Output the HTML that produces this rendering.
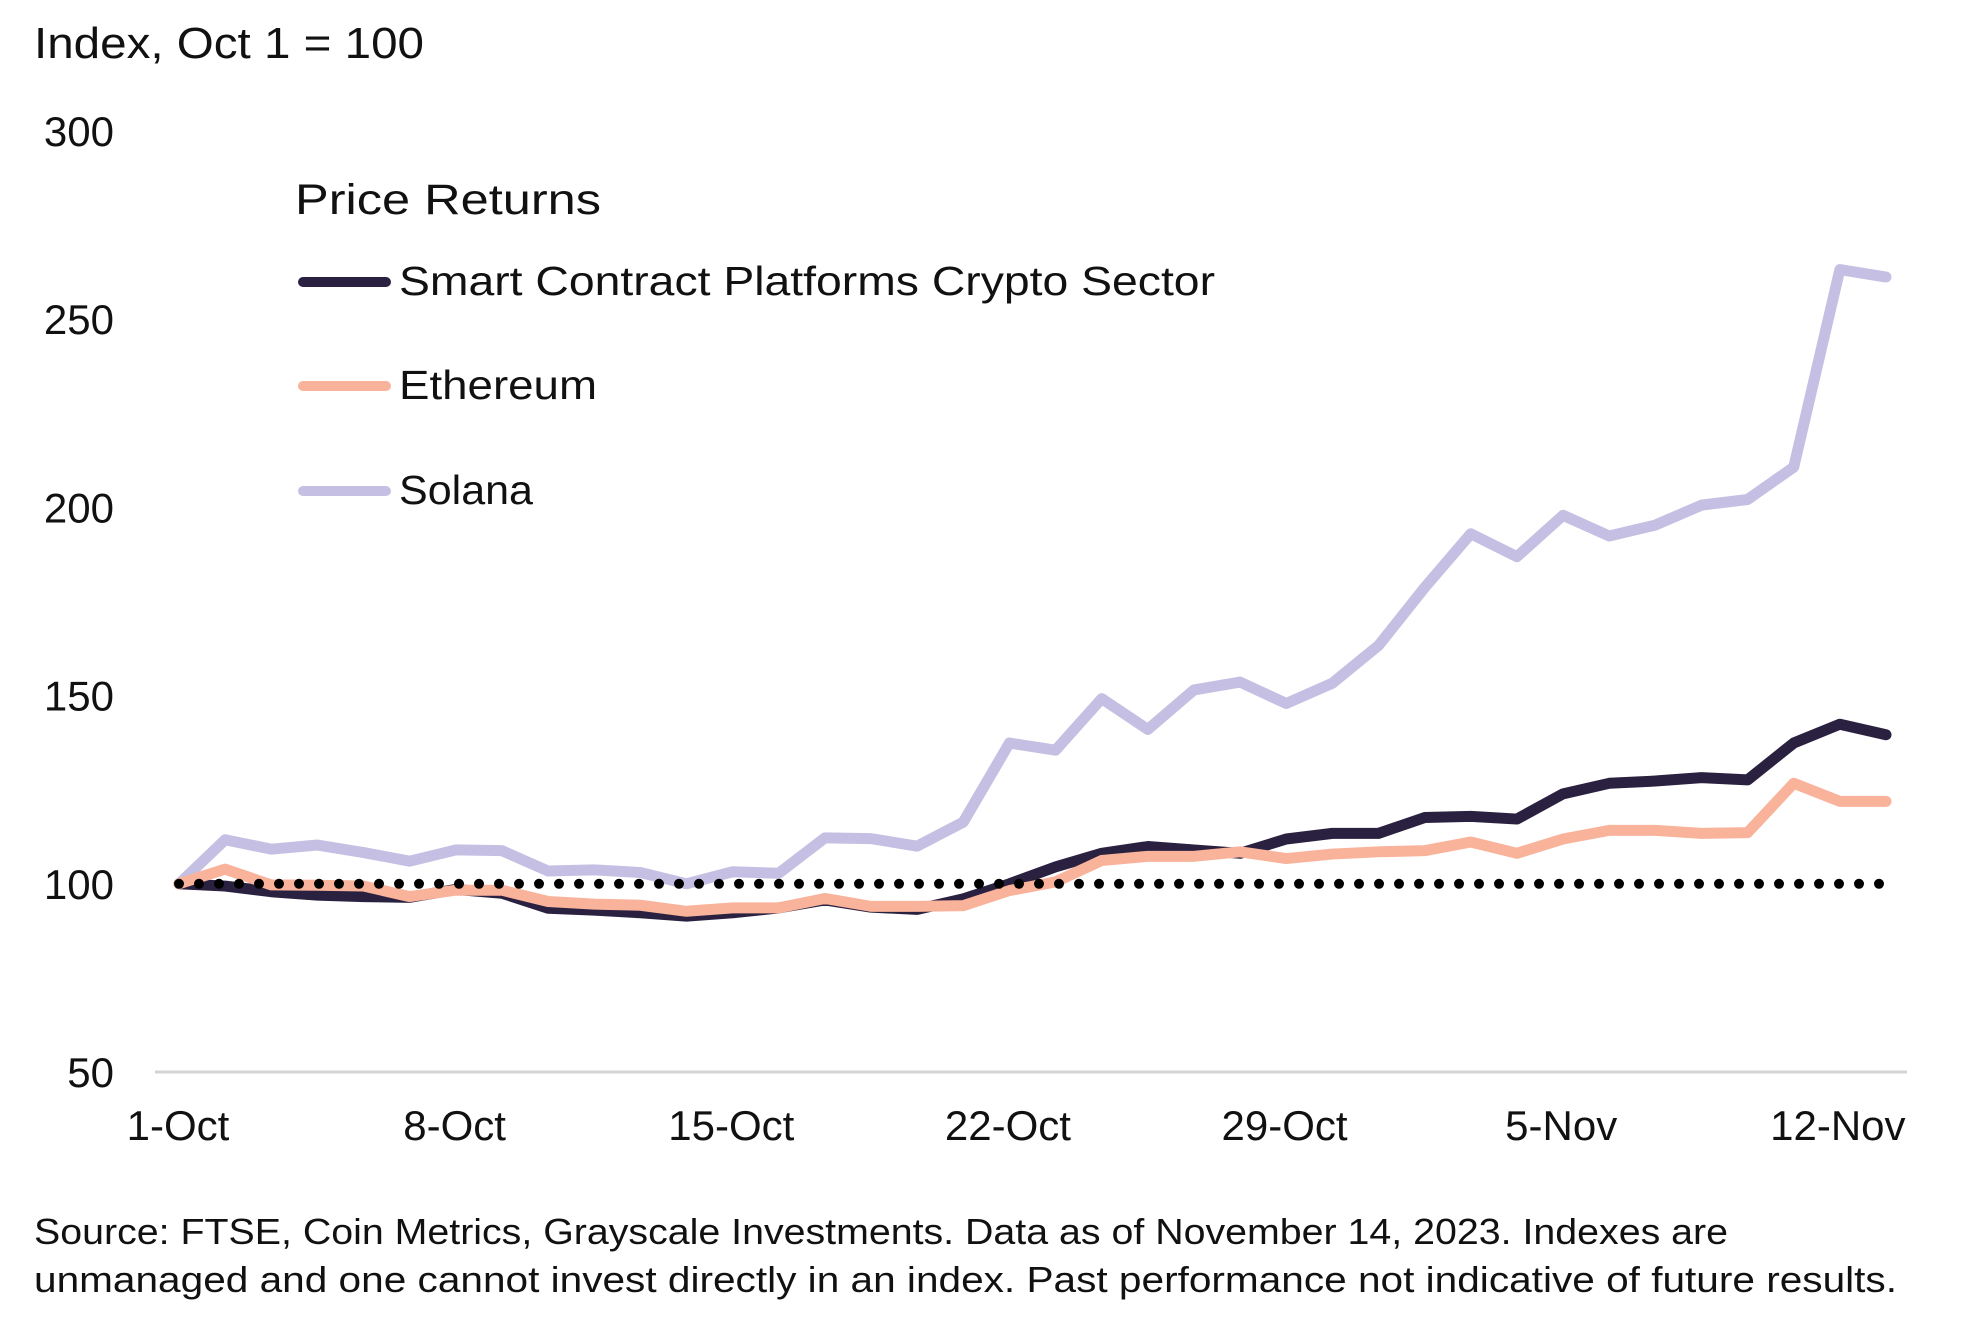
<!DOCTYPE html>
<html><head><meta charset="utf-8"><style>
body{margin:0;background:#fff;}
svg{display:block;font-family:"Liberation Sans",sans-serif;}
</style></head><body>
<svg id="chart" width="1980" height="1319" viewBox="0 0 1980 1319">
<text x="34" y="58" font-size="44" fill="#111" textLength="390" lengthAdjust="spacingAndGlyphs">Index, Oct 1 = 100</text>
<g id="yticks"></g>
<line x1="155" y1="1072" x2="1907" y2="1072" stroke="#d4d4d4" stroke-width="3"/>
<g id="xticks"></g>
<g id="series"></g>
<g>
<text x="295" y="214" font-size="43" fill="#111" textLength="306" lengthAdjust="spacingAndGlyphs">Price Returns</text>
<g>
<line x1="303" y1="282" x2="386" y2="282" stroke="#2a2140" stroke-width="10" stroke-linecap="round"/>
<text x="399" y="295" font-size="41" fill="#111" textLength="816" lengthAdjust="spacingAndGlyphs">Smart Contract Platforms Crypto Sector</text></g>
<g>
<line x1="303" y1="386" x2="386" y2="386" stroke="#f9b39b" stroke-width="10" stroke-linecap="round"/>
<text x="399" y="399" font-size="41" fill="#111" textLength="198" lengthAdjust="spacingAndGlyphs">Ethereum</text></g>
<g>
<line x1="303" y1="491" x2="386" y2="491" stroke="#c5c0e3" stroke-width="10" stroke-linecap="round"/>
<text x="399" y="504" font-size="41" fill="#111" textLength="134" lengthAdjust="spacingAndGlyphs">Solana</text></g>
</g>
<text x="34" y="1244" font-size="36" fill="#111" textLength="1694" lengthAdjust="spacingAndGlyphs">Source: FTSE, Coin Metrics, Grayscale Investments. Data as of November 14, 2023. Indexes are</text>
<text x="34" y="1292" font-size="36" fill="#111" textLength="1863" lengthAdjust="spacingAndGlyphs">unmanaged and one cannot invest directly in an index. Past performance not indicative of future results.</text>
</svg>
<script>
const yTicks=[50,100,150,200,250,300];
const xTickLabels=["1-Oct","8-Oct","15-Oct","22-Oct","29-Oct","5-Nov","12-Nov"];
const xTickDays=[0,7,14,21,28,35,42];
const smart=[100,99.4,97.9,97,96.6,96.4,98.5,97.5,93.5,93,92.3,91.4,92.3,93.6,95.7,93.8,93.2,96,100,104.5,108.1,109.9,109,108.1,111.9,113.4,113.4,117.6,117.9,117.2,123.9,126.7,127.3,128.2,127.6,137.4,142.4,139.6];
const ethereum=[100,103.9,99.7,99.6,99.4,96.6,98.3,98.3,95.3,94.6,94.3,92.7,93.6,93.6,96.1,94,94,94.2,98.2,100.5,106.2,107.3,107.3,108.5,106.7,107.9,108.5,108.8,111.1,108.1,111.9,114.2,114.2,113.4,113.6,126.7,121.9,121.9];
const solana=[100,111.7,109.2,110.3,108.3,106,109,108.8,103.4,103.7,103,100,103.2,102.8,112.2,112,110,116.4,137.4,135.5,149.2,141,151.5,153.6,147.9,153.3,163.3,178.7,193,186.9,197.9,192.4,195.3,200.6,202.1,210.7,263.2,261.2];
const baseline=100;
const NS="http://www.w3.org/2000/svg";
function y(v){return 1072-(v-50)*3.764;}
function xi(i,n){return 179+i*(1886-179)/(n-1);}
function xd(d){return 178+d*39.52;}
const yg=document.getElementById('yticks');
yTicks.forEach(v=>{const t=document.createElementNS(NS,'text');


t.setAttribute('x',114);t.setAttribute('y',y(v)+15);t.setAttribute('text-anchor','end');t.setAttribute('font-size','42');t.setAttribute('fill','#111');t.textContent=v;yg.appendChild(t);});
const xg=document.getElementById('xticks');
xTickLabels.forEach((l,k)=>{const t=document.createElementNS(NS,'text');


t.setAttribute('x',xd(xTickDays[k]));t.setAttribute('y',1140);t.setAttribute('text-anchor','middle');t.setAttribute('font-size','42');t.setAttribute('fill','#111');t.textContent=l;xg.appendChild(t);});
const sg=document.getElementById('series');
function addLine(arr,color,w,name){const p=document.createElementNS(NS,'polyline');


p.setAttribute('points',arr.map((v,i)=>xi(i,arr.length)+','+y(v)).join(' '));
p.setAttribute('fill','none');p.setAttribute('stroke',color);p.setAttribute('stroke-width',w);p.setAttribute('stroke-linejoin','round');p.setAttribute('stroke-linecap','round');sg.appendChild(p);}
addLine(solana,'#c5c0e3',11,'solana-line');
addLine(smart,'#2a2140',11,'smart-contract-line');
addLine(ethereum,'#f9b39b',11,'ethereum-line');
const bl=document.createElementNS(NS,'line');


bl.setAttribute('x1',xi(0,solana.length));bl.setAttribute('x2',xi(solana.length-1,solana.length));
bl.setAttribute('y1',y(baseline));bl.setAttribute('y2',y(baseline));
bl.setAttribute('stroke','#000');bl.setAttribute('stroke-width','10');bl.setAttribute('stroke-linecap','round');bl.setAttribute('stroke-dasharray','0 20');
sg.appendChild(bl);
</script>
</body></html>
